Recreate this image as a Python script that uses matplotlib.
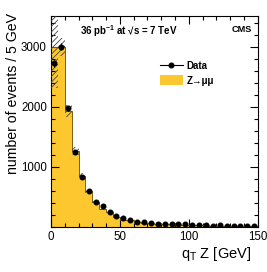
import numpy as np
import matplotlib
matplotlib.use("Agg")
import matplotlib.pyplot as plt
from matplotlib.lines import Line2D
from matplotlib.patches import Patch
from matplotlib.ticker import MultipleLocator

plt.rcParams['font.family'] = ['Liberation Sans', 'DejaVu Sans']
plt.rcParams['mathtext.fontset'] = 'custom'
plt.rcParams['mathtext.rm'] = 'Liberation Sans'
plt.rcParams['mathtext.bf'] = 'Liberation Sans:bold'
plt.rcParams['mathtext.it'] = 'Liberation Sans:italic'
plt.rcParams['hatch.linewidth'] = 0.6

# ---- data (qT bins of 5 GeV, 0-150 GeV) ----
bin_edges = np.arange(0, 155, 5)
mc_values = [3000, 3000, 1930, 1260, 850, 590, 410, 300, 245, 170,
             120, 105, 80, 70, 58, 50, 44, 40, 36, 32,
             28, 25, 22, 20, 18, 16, 14, 13, 12, 11]
mc_unc = [690, 150, 100, 63, 43, 30, 21, 15, 12, 9,
          6, 5, 4, 4, 3, 3, 2, 2, 2, 2,
          1, 1, 1, 1, 1, 1, 1, 1, 1, 1]
data_values = [2720, 3000, 1970, 1240, 830, 590, 405, 345, 240, 180,
               140, 111, 83, 73, 56, 50, 45, 50, 40, 40,
               30, 25, 25, 20, 22, 15, 18, 12, 15, 10]

mc = np.array(mc_values, float)
unc = np.array(mc_unc, float)
dat = np.array(data_values, float)
centers = 0.5 * (bin_edges[:-1] + bin_edges[1:])

fig = plt.figure(figsize=(2.67, 2.72), dpi=100)
ax = fig.add_axes([0.191, 0.1665, 0.774, 0.7745])

yellow = '#FDC82F'
ax.bar(bin_edges[:-1], mc, width=5, align='edge', color=yellow, lw=0, zorder=1)
ax.stairs(mc, bin_edges, color='#7a5f10', lw=0.7, zorder=2)
ax.bar(bin_edges[:-1], 2 * unc, bottom=mc - unc, width=5, align='edge',
       fill=False, hatch='//////', edgecolor='#444444', lw=0, zorder=3)
ax.errorbar(centers, dat, yerr=np.sqrt(dat), fmt='o', color='black', ms=3.3,
            elinewidth=0.8, capsize=0, zorder=4)

ax.set_xlim(0, 150)
ax.set_ylim(0, 3510)
ax.xaxis.set_major_locator(MultipleLocator(50))
ax.xaxis.set_minor_locator(MultipleLocator(10))
ax.set_yticks([1000, 2000, 3000])
ax.yaxis.set_minor_locator(MultipleLocator(200))
ax.tick_params(which='both', direction='in', top=True, right=True, labelsize=8.3, pad=3)
ax.tick_params(which='major', length=6, width=0.8)
ax.tick_params(which='minor', length=3, width=0.8)
for s in ax.spines.values():
    s.set_linewidth(0.8)

fig.text(0.048, 0.952, 'number of events / 5 GeV', rotation=90, ha='center', va='top',
         fontsize=10.2)
fig.text(0.94, 0.052, r'q$_\mathrm{T}$ Z [GeV]', ha='right', va='baseline', fontsize=10.5)

fig.text(0.30, 0.886, r'36 pb$^{\mathbf{-1}}$ at √s = 7 TeV', fontsize=7.0,
         fontweight='bold', va='center', ha='left')
fig.text(0.945, 0.893, 'CMS', fontsize=6.6, fontweight='bold', va='center', ha='right')

handles = [Line2D([0], [0], color='black', marker='o', ms=3.3, lw=0.8),
           Patch(facecolor=yellow, edgecolor='none')]
ax.legend(handles, ['Data', 'Z→μμ'], loc='upper left', bbox_to_anchor=(0.60, 0.775),
          bbox_transform=fig.transFigure, frameon=False,
          prop={'weight': 'bold', 'size': 7}, handlelength=2.3, handleheight=1.2,
          handletextpad=0.4, labelspacing=0.4, borderpad=0, borderaxespad=0)

fig.savefig('out.png', dpi=100)
